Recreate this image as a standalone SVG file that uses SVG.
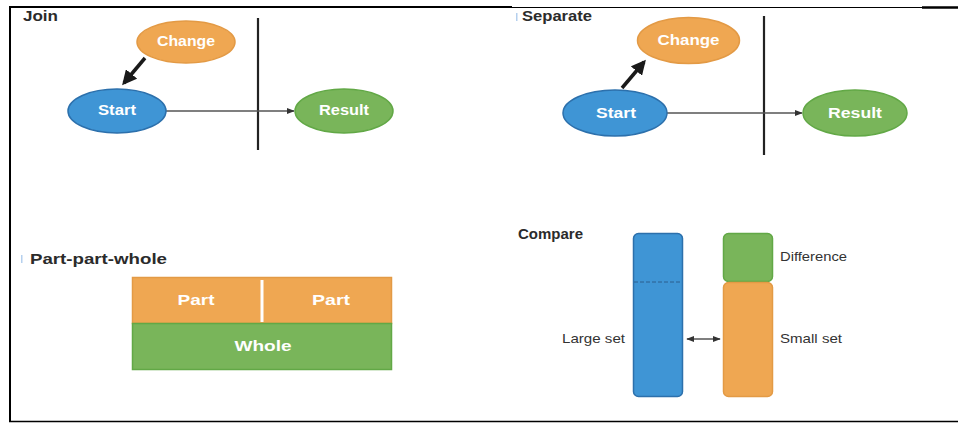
<svg xmlns="http://www.w3.org/2000/svg" width="958" height="423" viewBox="0 0 958 423">
<defs>
<style>
.title{font-family:"Liberation Sans",Arial,sans-serif;font-weight:bold;font-size:14px;fill:#2b2b2b}
.nt{font-family:"Liberation Sans",Arial,sans-serif;font-weight:bold;font-size:14px;fill:#ffffff;text-anchor:middle}
.lbl{font-family:"Liberation Sans",Arial,sans-serif;font-size:13px;fill:#333333}
.orange{fill:#EFA752;stroke:#E39A45;stroke-width:1.5}
.blue{fill:#3F95D5;stroke:#2C70AC;stroke-width:1.5}
.green{fill:#79B55A;stroke:#62A846;stroke-width:1.5}
.thin{stroke:#555555;stroke-width:1.4;fill:none}
.thick{stroke:#1a1a1a;stroke-width:3.5;fill:none}
.divider{stroke:#222222;stroke-width:2.2}
</style>
<marker id="ah" viewBox="0 0 10 10" refX="9" refY="5" markerWidth="8" markerHeight="8" markerUnits="userSpaceOnUse" orient="auto-start-reverse">
<path d="M0,1 L10,5 L0,9 z" fill="#333333"/>
</marker>
<marker id="ahk" viewBox="0 0 10 10" refX="8" refY="5" markerWidth="4.2" markerHeight="4.2" orient="auto">
<path d="M0,0 L10,5 L0,10 z" fill="#1a1a1a"/>
</marker>
</defs>
<rect width="958" height="423" fill="#ffffff"/>
<g id="frame" stroke="#000000">
<line x1="10" y1="7" x2="10" y2="422" stroke-width="2"/>
<line x1="9" y1="7" x2="512" y2="7" stroke-width="2"/>
<line x1="512" y1="7.5" x2="922" y2="7.5" stroke-width="1"/>
<line x1="922" y1="7.5" x2="958" y2="7.5" stroke-width="2.5"/>
<line x1="9" y1="421.5" x2="958" y2="421.5" stroke-width="1.6"/>
</g>
<g id="titles">
<text class="title" x="23" y="21" textLength="35" lengthAdjust="spacingAndGlyphs">Join</text>
<text class="title" x="522" y="21" textLength="70" lengthAdjust="spacingAndGlyphs">Separate</text>
<text class="title" x="30" y="264" textLength="137" lengthAdjust="spacingAndGlyphs">Part-part-whole</text>
<text class="title" x="518" y="239" textLength="65" lengthAdjust="spacingAndGlyphs">Compare</text>
<rect x="21" y="255" width="1.5" height="8" fill="#b5d0ee"/>
<rect x="516" y="13" width="1.5" height="8" fill="#b5d0ee"/>
</g>
<g id="dividers">
<line class="divider" x1="258" y1="18" x2="258" y2="150"/>
<line class="divider" x1="764" y1="16" x2="764" y2="155"/>
</g>
<g id="connectors">
<line class="thin" x1="166" y1="111" x2="294" y2="111" marker-end="url(#ah)"/>
<line class="thick" x1="145" y1="58" x2="124" y2="83" marker-end="url(#ahk)"/>
<line class="thin" x1="667" y1="113" x2="802" y2="113" marker-end="url(#ah)"/>
<line class="thick" x1="622" y1="88" x2="644" y2="62" marker-end="url(#ahk)"/>
<line class="thin" x1="687" y1="339" x2="720" y2="339" stroke="#222" marker-start="url(#ah)" marker-end="url(#ah)"/>
</g>
<g id="join-change">
<ellipse class="orange" cx="186" cy="42" rx="49" ry="21"/>
<text class="nt" x="186" y="46" textLength="58" lengthAdjust="spacingAndGlyphs">Change</text>
</g>
<g id="join-start">
<ellipse class="blue" cx="117" cy="111" rx="49" ry="22"/>
<text class="nt" x="117" y="115" textLength="38" lengthAdjust="spacingAndGlyphs">Start</text>
</g>
<g id="join-result">
<ellipse class="green" cx="344" cy="111" rx="49" ry="22"/>
<text class="nt" x="344" y="115" textLength="50" lengthAdjust="spacingAndGlyphs">Result</text>
</g>
<g id="sep-change">
<ellipse class="orange" cx="688.5" cy="40.5" rx="51" ry="23"/>
<text class="nt" x="688.5" y="45" textLength="62" lengthAdjust="spacingAndGlyphs">Change</text>
</g>
<g id="sep-start">
<ellipse class="blue" cx="615" cy="113" rx="52" ry="23"/>
<text class="nt" x="616" y="118" textLength="40" lengthAdjust="spacingAndGlyphs">Start</text>
</g>
<g id="sep-result">
<ellipse class="green" cx="855" cy="113" rx="52" ry="23"/>
<text class="nt" x="855" y="118" textLength="54" lengthAdjust="spacingAndGlyphs">Result</text>
</g>
<g id="ppw-parts">
<rect class="orange" x="132.5" y="277.5" width="259" height="46"/>
<line x1="262" y1="280" x2="262" y2="322" stroke="#ffffff" stroke-width="3"/>
<text class="nt" x="196" y="305" textLength="37" lengthAdjust="spacingAndGlyphs">Part</text>
<text class="nt" x="331" y="305" textLength="38" lengthAdjust="spacingAndGlyphs">Part</text>
</g>
<g id="ppw-whole">
<rect class="green" x="132.5" y="323.5" width="259" height="46"/>
<text class="nt" x="263" y="351" textLength="57" lengthAdjust="spacingAndGlyphs">Whole</text>
</g>
<g id="large-set">
<rect class="blue" x="633.5" y="233.5" width="49" height="163" rx="5"/>
<line x1="634" y1="282" x2="682" y2="282" stroke="#2C5E8E" stroke-width="1" stroke-dasharray="4,2"/>
<text class="lbl" x="562" y="343" textLength="63" lengthAdjust="spacingAndGlyphs">Large set</text>
</g>
<g id="difference">
<rect class="green" x="723.5" y="233.5" width="49" height="48" rx="5"/>
<text class="lbl" x="780" y="261" textLength="67" lengthAdjust="spacingAndGlyphs">Difference</text>
</g>
<g id="small-set">
<rect class="orange" x="723.5" y="282.5" width="49" height="114" rx="5"/>
<text class="lbl" x="780" y="343" textLength="62" lengthAdjust="spacingAndGlyphs">Small set</text>
</g>
</svg>
